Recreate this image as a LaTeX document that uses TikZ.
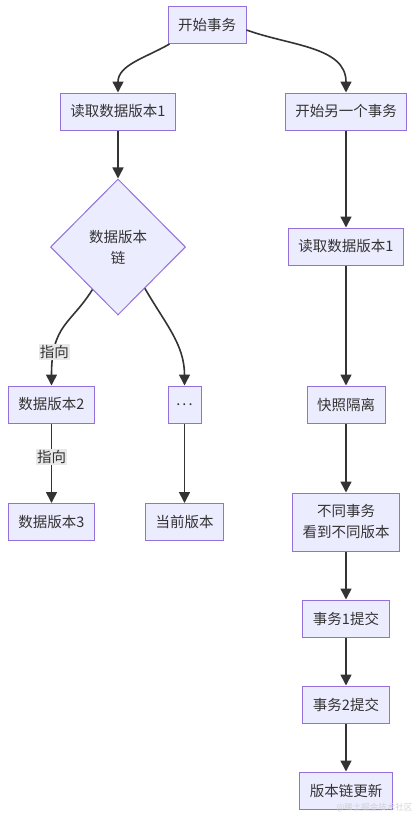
\documentclass[tikz,border=0pt]{standalone}
\usepackage{fontspec}
\setmainfont{Noto Sans CJK SC}
\usetikzlibrary{arrows.meta,shapes.geometric}
\definecolor{boxfill}{HTML}{ECECFF}
\definecolor{boxline}{HTML}{9370DB}
\definecolor{linkcol}{HTML}{333333}
\definecolor{labelbg}{HTML}{E8E8E8}
\tikzset{
  box/.style={draw=boxline, fill=boxfill, line width=1pt, minimum height=37pt,
    inner xsep=10pt, inner ysep=0pt, text=linkcol, align=center,
    font=\fontsize{14.5}{21}\selectfont},
  chain/.style={box, shape=diamond, minimum width=135pt, minimum height=136pt, inner sep=0pt},
  link/.style={draw=linkcol, line width=1.6pt, -{Triangle[length=11pt,width=11pt]}},
  lbl/.style={fill=labelbg, text=linkcol, inner sep=1pt, font=\fontsize{14.5}{17}\selectfont}
}
\begin{document}
\begin{tikzpicture}[x=1pt,y=-1pt]
\useasboundingbox (0,0) rectangle (418,817);
\node[box] (start) at (207,25) {开始事务};
\node[box] (readA) at (118,111.5) {读取数据版本1};
\node[box] (other) at (346,111.5) {开始另一个事务};
\node[chain] (vchain) at (118,247) {数据版本\\链};
\node[box, minimum width=33pt, inner xsep=4pt] (dots) at (184.5,404.5) {.\hspace{2pt}.\hspace{2pt}.};
\node[box] (ver2) at (51.5,404.5) {数据版本2};
\node[box] (ver3) at (51.5,522) {数据版本3};
\node[box] (cur) at (184.5,522) {当前版本};
\node[box] (readB) at (346,246.5) {读取数据版本1};
\node[box] (snap) at (346,404.5) {快照隔离};
\node[box, minimum height=58pt] (diff) at (346,522) {不同事务\\看到不同版本};
\node[box] (commitA) at (346,618.5) {事务1提交};
\node[box] (commitB) at (346,704.5) {事务2提交};
\node[box] (update) at (346,790.5) {版本链更新};
\draw[link] ([xshift=2pt]start.south west) to[out=-150,in=90] (readA.north);
\draw[link] ([yshift=-5pt]start.east) to[out=-20,in=90] (other.north);
\draw[link] (readA) -- (vchain);
\draw[link] (vchain.-121) to[out=-122,in=90,in looseness=1.5] node[lbl, pos=0.77] {指向} (ver2.north);
\draw[link] (vchain.-57) to[out=-60,in=90] (dots.north);
\draw[link] (ver2) -- node[lbl, pos=0.42] {指向} (ver3);
\draw[link] (dots) -- (cur);
\draw[link] (other) -- (readB);
\draw[link] (readB) -- (snap);
\draw[link] (snap) -- (diff);
\draw[link] (diff) -- (commitA);
\draw[link] (commitA) -- (commitB);
\draw[link] (commitB) -- (update);
\node[text=gray!35, font=\fontsize{8.5}{10}\selectfont, anchor=east] (mark) at (416,808) {@稀土掘金技术社区};
\end{tikzpicture}
\end{document}
